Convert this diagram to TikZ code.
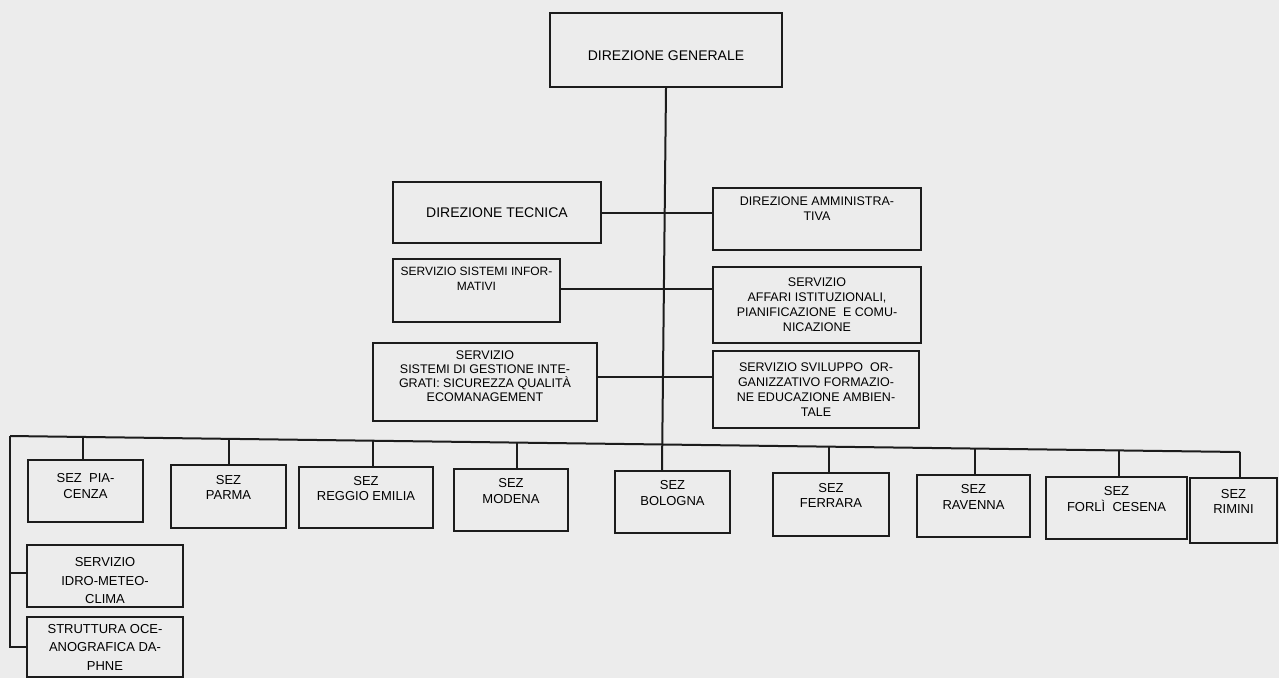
\documentclass[tikz,border=0pt]{standalone}
\usepackage{fontspec}
\setmainfont{Liberation Sans}
\usetikzlibrary{positioning, calc}

\definecolor{paper}{RGB}{236,236,236}
\definecolor{ink}{RGB}{28,28,28}

\tikzset{
    unit/.style={draw=ink, line width=2.3pt, rectangle, align=center, inner sep=1pt, text=black,
        font=\fontsize{13}{15.5}\selectfont},
    sez/.style={unit, text depth=18pt},
    link/.style={draw=ink, line width=2pt},
}

\begin{document}
\begin{tikzpicture}[x=1pt, y=-1pt]
        % Sheet
        \fill[paper] (0,0) rectangle (1279,678);
        \useasboundingbox (0,0) rectangle (1279,678);

        % Nodes for the direction
        \node[unit, minimum width=232pt, minimum height=74pt, text height=22pt, font=\fontsize{14}{16}\selectfont] (DG) at (666,50) {DIREZIONE GENERALE};
        \node[unit, minimum width=208pt, minimum height=61pt, font=\fontsize{14}{16}\selectfont] (DT) at (497,212.5) {DIREZIONE TECNICA};
        \node[unit, minimum width=208pt, minimum height=62pt, text depth=21pt, font=\fontsize{12.5}{15}\selectfont] (DA) at (817,219) {DIREZIONE AMMINISTRA-\\TIVA};

        % Nodes for the services
        \node[unit, minimum width=167pt, minimum height=63pt, text depth=24pt, font=\fontsize{12}{15}\selectfont] (SI) at (476.5,290.5) {SERVIZIO SISTEMI INFOR-\\MATIVI};
        \node[unit, minimum width=208pt, minimum height=76pt, font=\fontsize{12.5}{15}\selectfont] (SA) at (817,305) {SERVIZIO\\AFFARI ISTITUZIONALI,\\PIANIFICAZIONE\ \ E COMU-\\NICAZIONE};
        \node[unit, minimum width=224pt, minimum height=78pt, text depth=12pt, font=\fontsize{12.5}{13.8}\selectfont] (SG) at (485,382) {SERVIZIO\\SISTEMI DI GESTIONE INTE-\\GRATI: SICUREZZA QUALITÀ\\ECOMANAGEMENT};
        \node[unit, minimum width=206pt, minimum height=77pt, font=\fontsize{12.5}{15}\selectfont] (SS) at (816,389.5) {SERVIZIO SVILUPPO\ \ OR-\\GANIZZATIVO FORMAZIO-\\NE EDUCAZIONE AMBIEN-\\TALE};

        % Nodes for the sections
        \node[sez, minimum width=115pt, minimum height=62pt, text depth=10pt] (Z1) at (85.5,491) {SEZ\ \ PIA-\\CENZA};
        \node[sez, minimum width=115pt, minimum height=63pt] (Z2) at (228.5,496.5) {SEZ\\PARMA};
        \node[sez, minimum width=134pt, minimum height=61pt] (Z3) at (366,497.5) {SEZ\\REGGIO EMILIA};
        \node[sez, minimum width=114pt, minimum height=62pt] (Z4) at (511,500) {SEZ\\MODENA};
        \node[sez, minimum width=115pt, minimum height=62pt] (Z5) at (672.5,502) {SEZ\\BOLOGNA};
        \node[sez, minimum width=116pt, minimum height=63pt] (Z6) at (831,504.5) {SEZ\\FERRARA};
        \node[sez, minimum width=113pt, minimum height=62pt] (Z7) at (973.5,506) {SEZ\\RAVENNA};
        \node[sez, minimum width=141pt, minimum height=62pt] (Z8) at (1116.5,508) {SEZ\\FORLÌ\ \ CESENA};
        \node[sez, minimum width=87pt, minimum height=65pt] (Z9) at (1233.5,510.5) {SEZ\\RIMINI};

        % Nodes on the left branch
        \node[unit, minimum width=156pt, minimum height=62pt, text height=56pt, font=\fontsize{13}{18.5}\selectfont] (L1) at (105,576) {SERVIZIO\\IDRO-METEO-\\CLIMA};
        \node[unit, minimum width=156pt, minimum height=60pt, font=\fontsize{13}{18.5}\selectfont] (L2) at (105,647) {STRUTTURA OCE-\\ANOGRAFICA DA-\\PHNE};

        % Side links
        \draw[link] (DT.east) -- (DT.east -| DA.west);
        \draw[link] ([yshift=2pt]SI.east) -- ([yshift=2pt]SI.east -| SA.west);
        \draw[link] ([yshift=5pt]SG.east) -- ([yshift=5pt]SG.east -| SS.west);

        % Bus to the sections
        \coordinate (busL) at (10,436);
        \coordinate (busR) at (1240,452);
        \draw[link] (busL) -- (busR);
        \coordinate (b5) at ($(busL)!{(662-10)/1230}!(busR)$);
        \draw[link] (DG.south) -- (b5 |- Z5.north);
        \foreach \n/\x in {1/83, 2/229, 3/373, 4/517, 6/829, 7/975, 8/1119, 9/1240} {
            \coordinate (b\n) at ($(busL)!{(\x-10)/1230}!(busR)$);
            \draw[link] (b\n) -- (b\n |- Z\n.north);
        }

        % Left branch
        \draw[link] (busL) -- (busL |- L2.west) -- (L2.west);
        \draw[link] ([yshift=3pt]busL |- L1.west) -- ([yshift=3pt]L1.west);
\end{tikzpicture}
\end{document}
